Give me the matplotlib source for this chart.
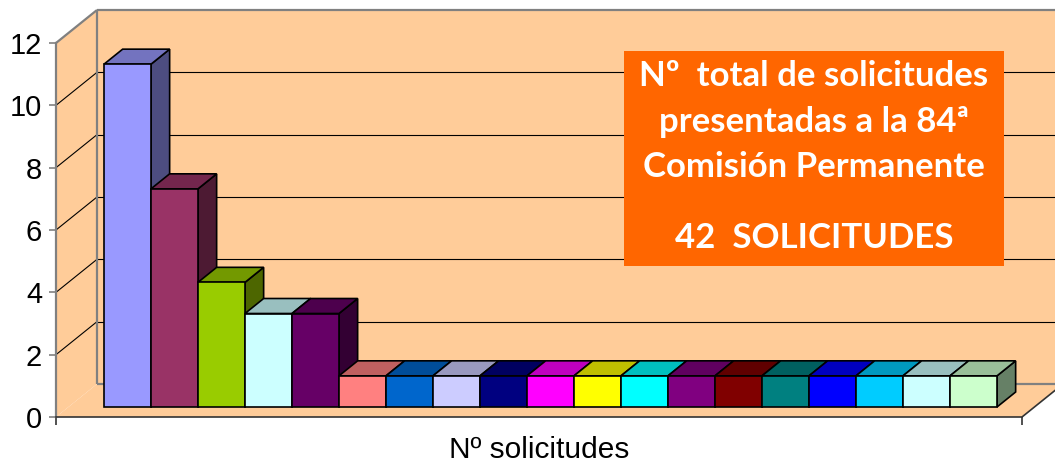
import matplotlib
matplotlib.use('Agg')
import matplotlib.pyplot as plt
from matplotlib.patches import Polygon, Rectangle
from matplotlib.transforms import IdentityTransform
import matplotlib.colors as mcolors

# ---------------- data ----------------
values = [11, 7, 4, 3, 3, 1, 1, 1, 1, 1, 1, 1, 1, 1, 1, 1, 1, 1, 1]
bar_colors = ['#9999FF', '#993366', '#99CC00', '#CCFFFF', '#660066',
              '#FF8080', '#0066CC', '#CCCCFF', '#000080', '#FF00FF',
              '#FFFF00', '#00FFFF', '#800080', '#800000', '#008080',
              '#0000FF', '#00CCFF', '#CCFFFF', '#CCFFCC']
yticks = [0, 2, 4, 6, 8, 10, 12]
x_label = 'Nº solicitudes'
box_lines = ['Nº  total de solicitudes', 'presentadas a la 84ª',
             'Comisión Permanente', '42  SOLICITUDES']

# ---------------- layout ----------------
W, H = 1055, 469
fig = plt.figure(figsize=(W / 100, H / 100), dpi=100)
ax = fig.add_axes([56 / W, 52 / H, 966 / W, 374 / H])
XL, XR = -0.757, 19.796
YMAX = 12
ax.set_xlim(XL, XR)
ax.set_ylim(0, YMAX)
ax.set_autoscale_on(False)
ax.patch.set_visible(False)

DX, DY = 41.0, 33.0          # full depth offset in pixels (display, y up)
D0, D1 = 10 / 33, 25 / 33    # bar depth range
WALL = '#FFCC99'
GRAY = '#808080'


def P(x, v, d):
    X, Y = ax.transData.transform((x, v))
    return (X + DX * d, Y + DY * d)


def poly(pts, fc, ec='none', lw=0, z=1):
    p = Polygon(pts, closed=True, facecolor=fc, edgecolor=ec, linewidth=lw,
                transform=IdentityTransform(), clip_on=False, zorder=z,
                joinstyle='miter')
    ax.add_patch(p)


def line(p1, p2, color, lw, z):
    ax.plot([p1[0], p2[0]], [p1[1], p2[1]], color=color, lw=lw,
            transform=IdentityTransform(), clip_on=False, zorder=z,
            solid_capstyle='butt')


# back wall
poly([P(XL, 0, 1), P(XR, 0, 1), P(XR, YMAX, 1), P(XL, YMAX, 1)], WALL, z=0.5)
# left wall
poly([P(XL, 0, 0), P(XL, 0, 1), P(XL, YMAX, 1), P(XL, YMAX, 0)], WALL, z=0.5)
# floor
poly([P(XL, 0, 0), P(XR, 0, 0), P(XR, 0, 1), P(XL, 0, 1)], WALL, z=0.5)

# gridlines
for v in yticks[1:-1]:
    line(P(XL, v, 0), P(XL, v, 1), 'black', 0.8, 0.8)
    line(P(XL, v, 1), P(XR, v, 1), 'black', 0.8, 0.8)

# wall edges
line(P(XL, YMAX, 0), P(XL, YMAX, 1), GRAY, 1.6, 0.9)
line(P(XL, YMAX, 1), P(XR, YMAX, 1), GRAY, 1.6, 0.9)
line(P(XL, 0, 1), P(XL, YMAX, 1), GRAY, 1.6, 0.9)
line(P(XL, 0, 1), P(XR, 0, 1), GRAY, 1.6, 0.9)
line(P(XR, 0, 0), P(XR, 0, 1), '#333333', 1.2, 0.9)


def shade(c, f):
    r, g, b = mcolors.to_rgb(c)
    return (r * f, g * f, b * f)


# bars
for i, (v, c) in enumerate(zip(values, bar_colors)):
    z = 2 + i * 0.01
    x0, x1 = i, i + 1
    poly([P(x1, 0, D0), P(x1, 0, D1), P(x1, v, D1), P(x1, v, D0)],
         shade(c, 0.5), 'black', 1.2, z)
    poly([P(x0, v, D0), P(x1, v, D0), P(x1, v, D1), P(x0, v, D1)],
         shade(c, 0.75), 'black', 1.2, z)
    poly([P(x0, 0, D0), P(x1, 0, D0), P(x1, v, D0), P(x0, v, D0)],
         c, 'black', 1.2, z)

# axes
for s in ['top', 'right']:
    ax.spines[s].set_visible(False)
ax.spines['left'].set_color(GRAY)
ax.spines['left'].set_linewidth(1.6)
ax.spines['bottom'].set_color('#333333')
ax.spines['bottom'].set_linewidth(1.2)
ax.set_yticks(yticks)
ax.set_yticklabels([str(t) for t in yticks], family='Liberation Sans',
                   fontsize=21)
ax.tick_params(axis='y', length=5, width=1.2, color=GRAY, pad=5)
ax.set_xticks([XL, XR])
ax.set_xticklabels(['', ''])
ax.tick_params(axis='x', length=6, width=1.2, color='#333333')
ax.set_xlabel(x_label, family='Liberation Sans', fontsize=21.5)
ax.xaxis.set_label_coords(0.5, -0.05)

# annotation box
bx0, by0, bx1, by1 = 624, 51, 1004, 266
fig.patches.append(Rectangle((bx0 / W, 1 - by1 / H), (bx1 - bx0) / W,
                             (by1 - by0) / H, transform=fig.transFigure,
                             facecolor='#FF6600', edgecolor='none', zorder=5))
cx = (bx0 + bx1) / 2
for txt, ypx in zip(box_lines, [76, 122, 167, 238]):
    fig.text(cx / W, 1 - ypx / H, txt, ha='center', va='center',
             color='white', fontsize=25, fontweight='bold', family='Lato',
             zorder=6)

fig.savefig('out.png', dpi=100, facecolor='white')
